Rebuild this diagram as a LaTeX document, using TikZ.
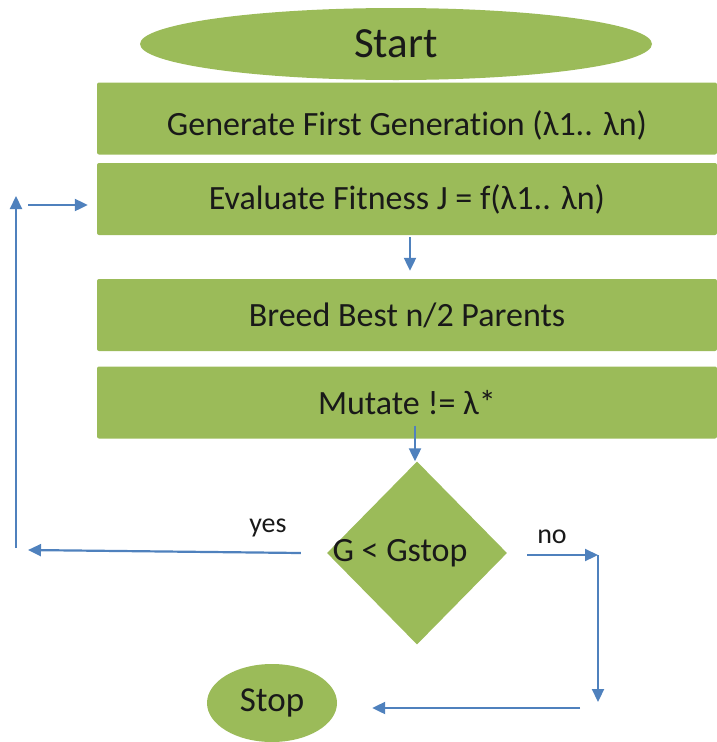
\documentclass[tikz,border=0pt]{standalone}
\usepackage{fontspec}
\setmainfont{Carlito}[Ligatures=NoCommon]
\usepackage{xcolor}
\usepackage{tikz}
\usetikzlibrary{shapes.geometric}
\usetikzlibrary{arrows.meta}
\definecolor{leafgreen}{HTML}{9BBB59}
\definecolor{linkblue}{HTML}{4F81BD}

\begin{document}
\begin{tikzpicture}[x=1pt,y=-1pt,
  every node/.style={text=black!90,inner sep=0pt},
  stepbox/.style={rectangle,fill=leafgreen,rounded corners=2pt,
    minimum width=620pt,minimum height=72pt,font=\fontsize{34}{40}\selectfont},
  term/.style={ellipse,fill=leafgreen},
  decision/.style={diamond,fill=leafgreen,minimum width=180pt,minimum height=183pt},
  answer/.style={font=\fontsize{28}{32}\selectfont},
  link/.style={draw=linkblue,line width=2.2pt,-{Triangle[length=13pt,width=12pt]}}]
\useasboundingbox (0,0) rectangle (717,742);
\node[term,minimum width=512pt,minimum height=72pt,font=\fontsize{43}{50}\selectfont] (start) at (396,44) {Start};
\node[stepbox,text height=40pt,text depth=7pt] (gen) at (407,118.5) {Generate First Generation (λ1.. λn)};
\node[stepbox] (eval) at (407,199) {Evaluate Fitness J = f(λ1.. λn)};
\node[stepbox] (breed) at (407,315) {Breed Best n/2 Parents};
\node[stepbox] (mutate) at (407,402.5) {Mutate != λ*};
\node[decision] (test) at (417,553) {};
\node[font=\fontsize{34}{40}\selectfont] (testlabel) at (400,553) {G < Gstop};
\node[term,minimum width=130pt,minimum height=78pt,font=\fontsize{35}{40}\selectfont] (stop) at (272,703) {Stop};
\node[answer] (yes) at (268,528) {yes};
\node[answer] (no) at (552,537) {no};

\coordinate (yesend) at (28,550);
\coordinate (loopbot) at (16,548);
\coordinate (looptop) at (16,196);
\coordinate (loopin) at (28,205);
\coordinate (nocorner) at (598,555);
\coordinate (nobot) at (598,702);
\coordinate (stopin) at (580,708);

\draw[link,shorten <=2pt,shorten >=8pt] ([xshift=3pt]eval.south) -- ([xshift=3pt]breed.north);
\draw[link] ([xshift=8pt,yshift=13pt]mutate.south) -- ([xshift=8pt]mutate.south |- test.north);
\draw[link] ([xshift=-26pt]test.west) -- (yesend);
\draw[link] (loopbot) -- (looptop);
\draw[link,shorten >=9pt] (loopin) -- ([yshift=-6pt]eval.west);
\draw[link] ([xshift=20pt,yshift=-2pt]test.east) -- (nocorner);
\draw[link] (nocorner) -- (nobot);
\draw[link,shorten >=35pt] (stopin) -- (stop.east |- stopin);
\end{tikzpicture}
\end{document}
